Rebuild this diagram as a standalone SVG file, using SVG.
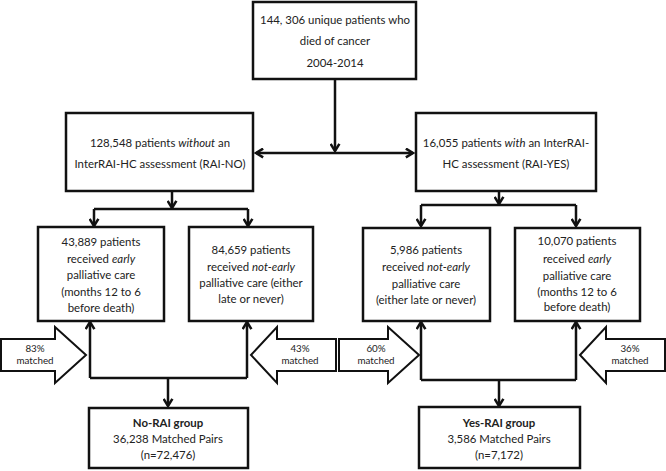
<svg xmlns="http://www.w3.org/2000/svg" width="666" height="471" viewBox="0 0 666 471">
<defs>
<marker id="arr" viewBox="0 0 10 10" refX="8" refY="5" markerWidth="11" markerHeight="11" markerUnits="userSpaceOnUse" orient="auto-start-reverse">
<path d="M1.5,1 L8,5 L1.5,9" fill="none" stroke="#111" stroke-width="2.3"/>
</marker>
</defs>
<style>
.box{fill:#fff;stroke:#111;stroke-width:2.5}
.t{font-family:Lato,"Liberation Sans",sans-serif;font-size:11.4px;fill:#222;text-anchor:middle}
.s{font-family:Lato,"Liberation Sans",sans-serif;font-size:9.8px;fill:#222;text-anchor:middle}
.c{fill:none;stroke:#111;stroke-width:2.5}
.a{marker-end:url(#arr)}
.blk{fill:#fff;stroke:#111;stroke-width:2}
</style>
<rect width="666" height="471" fill="#fff"/>
<g id="connectors">
<path class="c a" d="M335,79 V151"/>
<path class="c a" d="M256,153 H413" style="marker-start:url(#arr)"/>
<path class="c a" d="M172,191 V208"/>
<path class="c" d="M94,209 H248"/>
<path class="c a" d="M94,209 V226"/>
<path class="c a" d="M248,209 V226"/>
<path class="c a" d="M499,191 V204"/>
<path class="c" d="M421,205 H576"/>
<path class="c a" d="M421,205 V226"/>
<path class="c a" d="M576,205 V226"/>
<path class="c a" d="M90,378 V322"/>
<path class="c a" d="M247,378 V322"/>
<path class="c" d="M90,378 H247"/>
<path class="c a" d="M168,378 V406"/>
<path class="c a" d="M421,380 V322"/>
<path class="c a" d="M576,380 V322"/>
<path class="c" d="M421,380 H576"/>
<path class="c a" d="M499,380 V406"/>
</g>
<g id="n_total">
<rect class="box" x="253" y="2" width="163" height="77"/>
<text class="t" x="335" y="24">144, 306  unique patients who</text>
<text class="t" x="335" y="45">died of cancer</text>
<text class="t" x="335" y="67">2004-2014</text>
</g>
<g id="n_raino">
<rect class="box" x="66" y="113" width="187" height="78"/>
<text class="t" x="160" y="147">128,548  patients <tspan font-style="italic">without</tspan> an</text>
<text class="t" x="160" y="168">InterRAI-HC assessment (RAI-NO)</text>
</g>
<g id="n_raiyes">
<rect class="box" x="416" y="113" width="180" height="78"/>
<text class="t" x="506" y="147">16,055  patients <tspan font-style="italic">with</tspan> an InterRAI-</text>
<text class="t" x="506" y="168">HC assessment (RAI-YES)</text>
</g>
<g id="n_no_early">
<rect class="box" x="38" y="227" width="126" height="94"/>
<text class="t" x="101" y="246">43,889  patients</text>
<text class="t" x="101" y="263">received <tspan font-style="italic">early</tspan></text>
<text class="t" x="101" y="279">palliative care</text>
<text class="t" x="101" y="296">(months 12 to 6</text>
<text class="t" x="101" y="312">before death)</text>
</g>
<g id="n_no_notearly">
<rect class="box" x="189" y="227" width="124" height="94"/>
<text class="t" x="251" y="254">84,659  patients</text>
<text class="t" x="251" y="271">received <tspan font-style="italic">not-early</tspan></text>
<text class="t" x="251" y="287">palliative care (either</text>
<text class="t" x="251" y="303">late or never)</text>
</g>
<g id="n_yes_notearly">
<rect class="box" x="363" y="228" width="127" height="93"/>
<text class="t" x="426" y="254">5,986  patients</text>
<text class="t" x="426" y="271">received <tspan font-style="italic">not-early</tspan></text>
<text class="t" x="426" y="288">palliative care</text>
<text class="t" x="426" y="304">(either late or never)</text>
</g>
<g id="n_yes_early">
<rect class="box" x="515" y="228" width="125" height="93"/>
<text class="t" x="577" y="245">10,070  patients</text>
<text class="t" x="577" y="263">received <tspan font-style="italic">early</tspan></text>
<text class="t" x="577" y="280">palliative care</text>
<text class="t" x="577" y="296">(months 12 to 6</text>
<text class="t" x="577" y="311">before death)</text>
</g>
<g id="m83">
<polygon class="blk" points="1,339 55,339 55,327 86,355 55,383 55,371 1,371"/>
<text class="s" x="35" y="352">83%</text>
<text class="s" x="35" y="364">matched</text>
</g>
<g id="m43">
<polygon class="blk" points="251,355 277,327 277,339 336,339 336,371 277,371 277,383"/>
<text class="s" x="300" y="352">43%</text>
<text class="s" x="300" y="364">matched</text>
</g>
<g id="m60">
<polygon class="blk" points="339,339 388,339 388,327 419,355 388,383 388,371 339,371"/>
<text class="s" x="376" y="352">60%</text>
<text class="s" x="376" y="364">matched</text>
</g>
<g id="m36">
<polygon class="blk" points="580,355 606,327 606,339 665,339 665,371 606,371 606,383"/>
<text class="s" x="630" y="352">36%</text>
<text class="s" x="630" y="364">matched</text>
</g>
<g id="n_norai">
<rect class="box" x="89" y="408" width="159" height="60"/>
<text class="t" x="168" y="427" font-weight="bold">No-RAI group</text>
<text class="t" x="168" y="443">36,238  Matched Pairs</text>
<text class="t" x="168" y="459">(n=72,476)</text>
</g>
<g id="n_yesrai">
<rect class="box" x="419" y="407" width="161" height="61"/>
<text class="t" x="499" y="427" font-weight="bold">Yes-RAI group</text>
<text class="t" x="499" y="443">3,586  Matched Pairs</text>
<text class="t" x="499" y="459">(n=7,172)</text>
</g>
</svg>
